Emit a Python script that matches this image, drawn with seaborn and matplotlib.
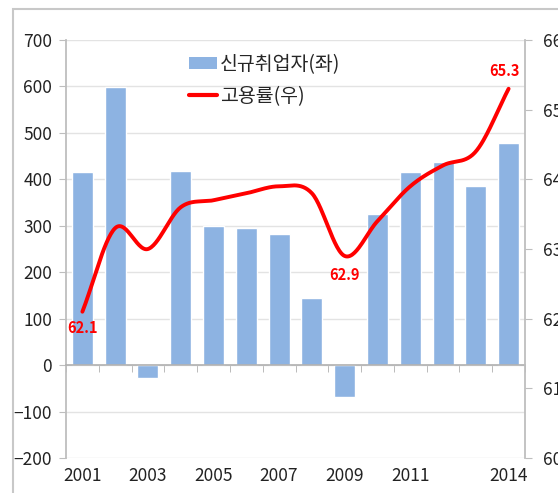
import numpy as np
import pandas as pd
import matplotlib
matplotlib.use("Agg")
import matplotlib.pyplot as plt
import seaborn as sns
from matplotlib.patches import Patch, Rectangle
from matplotlib.lines import Line2D

# data
years = [str(y) for y in range(2001, 2015)]
new_jobs = [415, 598, -28, 418, 299, 295, 282, 144, -69, 325, 415, 437, 385, 478]   # 천명, left axis
emp_rate = [62.1, 63.3, 63.0, 63.6, 63.7, 63.8, 63.9, 63.8, 62.9, 63.4, 63.9, 64.2, 64.4, 65.3]  # %, right axis
shown_years = ["2001", "2003", "2005", "2007", "2009", "2011", "2014"]
labelled = {"2001": (0, -12), "2009": (0, -14), "2014": (-3, 13)}

sns.set_style("white")
plt.rcParams["font.family"] = ["Noto Sans CJK KR", "DejaVu Sans"]

df = pd.DataFrame({"year": years, "jobs": new_jobs, "rate": emp_rate})

fig = plt.figure(figsize=(5.58, 4.93), dpi=100)
W, H = 558, 493
ax = fig.add_axes([66 / W, 1 - 458 / H, (525 - 66) / W, (458 - 40) / H])

# outer chart frame (right/bottom edges cropped like the original)
fig.patches.append(Rectangle((13 / W, -0.1), 2, 1.1 - 9 / H, transform=fig.transFigure,
                             fill=False, edgecolor="#C8C8C8", lw=1.5))

sns.barplot(data=df, x="year", y="jobs", color="#8DB3E2", saturation=1, width=0.64, ax=ax, zorder=2)
ax.set_xlim(-0.5, len(years) - 0.5)
ax.set_ylim(-200, 700)
ax.set_yticks(range(-200, 701, 100))
ax.grid(axis="y", color="#E3E3E3", lw=1, zorder=0)
ax.set_axisbelow(True)
ax.set_xlabel("")
ax.set_ylabel("")

for s in ["top", "right"]:
    ax.spines[s].set_visible(False)
ax.spines["left"].set_color("#BEBEBE")
ax.spines["left"].set_linewidth(1.3)
ax.spines["bottom"].set_position(("data", 0))
ax.spines["bottom"].set_color("#B0B0B0")
ax.spines["bottom"].set_linewidth(1.2)
ax.tick_params(axis="y", direction="out", length=5, color="#BEBEBE", labelsize=12.5,
               labelcolor="#222222", pad=5, left=True)
ax.set_xticks(np.arange(len(years)))
ax.set_xticklabels([])
ax.tick_params(axis="x", which="major", length=0)
ax.set_xticks(np.arange(len(years) + 1) - 0.5, minor=True)
ax.tick_params(axis="x", which="minor", direction="out", length=5, color="#B0B0B0", bottom=True)

for i, y in enumerate(years):
    if y in shown_years:
        ax.text(i, -0.022, y, transform=ax.get_xaxis_transform(), ha="center", va="top",
                fontsize=12.5, color="#222222")

# right axis: employment rate, drawn as a smoothed line like Excel
ax2 = ax.twinx()
ax2.set_ylim(60, 66)
ax2.set_yticks(range(60, 67))
for s in ["top", "left", "bottom"]:
    ax2.spines[s].set_visible(False)
ax2.spines["right"].set_color("#BEBEBE")
ax2.spines["right"].set_linewidth(1.3)
ax2.tick_params(axis="y", direction="out", length=5, color="#BEBEBE", labelsize=12.5,
                labelcolor="#222222", pad=8, right=True)
ax2.grid(False)


def catmull_rom(xs, ys, n=30):
    xs = np.asarray(xs, float)
    ys = np.asarray(ys, float)
    px = np.concatenate([[2 * xs[0] - xs[1]], xs, [2 * xs[-1] - xs[-2]]])
    py = np.concatenate([[2 * ys[0] - ys[1]], ys, [2 * ys[-1] - ys[-2]]])
    out_x, out_y = [], []
    t = np.linspace(0, 1, n, endpoint=False)
    for k in range(1, len(px) - 2):
        for P, out in ((px, out_x), (py, out_y)):
            p0, p1, p2, p3 = P[k - 1], P[k], P[k + 1], P[k + 2]
            out.extend(0.5 * ((2 * p1) + (-p0 + p2) * t + (2 * p0 - 5 * p1 + 4 * p2 - p3) * t ** 2
                              + (-p0 + 3 * p1 - 3 * p2 + p3) * t ** 3))
    out_x.append(xs[-1])
    out_y.append(ys[-1])
    return np.array(out_x), np.array(out_y)


sx, sy = catmull_rom(np.arange(len(years)), emp_rate)
ax2.plot(sx, sy, color="#FF0000", lw=2.8, solid_capstyle="round", zorder=5)

for y, (dx, dy) in labelled.items():
    i = years.index(y)
    ax2.annotate(f"{emp_rate[i]:.1f}", (i, emp_rate[i]), xytext=(dx, dy), textcoords="offset points",
                 ha="center", va="center", fontsize=10.5, fontweight="bold", color="#FF0000")

handles = [Patch(facecolor="#8DB3E2", edgecolor="none"),
           Line2D([], [], color="#FF0000", lw=3)]
fig.legend(handles, ["신규취업자(좌)", "고용률(우)"], loc="upper left",
           bbox_to_anchor=(189 / W, 1 - 54 / H), frameon=False, fontsize=14,
           handlelength=1.45, handleheight=0.55, handletextpad=0.15, labelspacing=0.55,
           borderaxespad=0, borderpad=0)

fig.savefig("out.png", dpi=100)
